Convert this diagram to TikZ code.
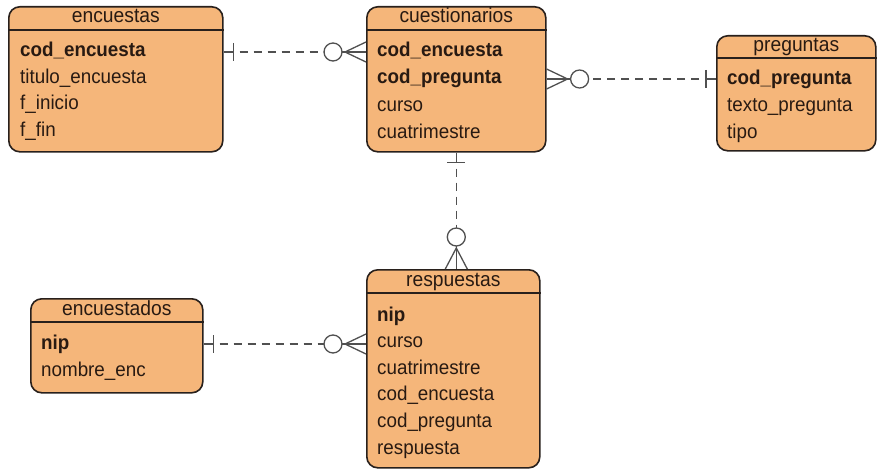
\documentclass[tikz,border=0pt]{standalone}
\usepackage{fontspec}
\setmainfont{Liberation Sans}[FakeStretch=0.94]
\usetikzlibrary{calc}
\definecolor{efill}{RGB}{245,182,122}
\definecolor{edraw}{RGB}{40,32,28}
\definecolor{etext}{RGB}{40,26,18}
\definecolor{rcol}{RGB}{80,80,80}
\tikzset{
  entity/.style={draw=edraw, fill=efill, line width=1.6pt, rounded corners=11pt, anchor=north west, inner sep=0pt},
  hdr/.style={draw=edraw, line width=1.6pt},
  ttl/.style={text=etext, font=\fontsize{20.5}{23}\selectfont, inner sep=0pt, text height=14pt, text depth=4pt},
  row/.style={text=etext, font=\fontsize{20}{23}\selectfont, inner sep=0pt, anchor=west, text height=14pt, text depth=4pt},
  key/.style={row, font=\fontsize{20}{23}\selectfont\bfseries},
  rel/.style={draw=rcol, line width=1.3pt},
  reld/.style={rel, dash pattern=on 8pt off 6pt},
}
\begin{document}
\begin{tikzpicture}[x=1pt, y=-1pt]
\useasboundingbox (0,0) rectangle (877,468);
% ---------- encuestas
\node[entity, minimum width=214pt, minimum height=145pt] (encuestas) at (8,6) {};
\draw[hdr] ([yshift=-24pt]encuestas.north west) -- ([yshift=-24pt]encuestas.north east);
\node[ttl] (encuestasT) at ([yshift=-12pt]encuestas.north) {encuestas};
\node[key] (ea1) at ([xshift=12pt,yshift=-46pt]encuestas.north west) {cod\_encuesta};
\node[row] (ea2) at ([yshift=-26.5pt]ea1.west) {titulo\_encuesta};
\node[row] (ea3) at ([yshift=-26.5pt]ea2.west) {f\_inicio};
\node[row] (ea4) at ([yshift=-26.5pt]ea3.west) {f\_fin};
% ---------- cuestionarios
\node[entity, minimum width=179pt, minimum height=145pt] (cuestionarios) at (366,6) {};
\draw[hdr] ([yshift=-24pt]cuestionarios.north west) -- ([yshift=-24pt]cuestionarios.north east);
\node[ttl] (cuestionariosT) at ([yshift=-12pt]cuestionarios.north) {cuestionarios};
\node[key] (cq1) at ([xshift=11pt,yshift=-46pt]cuestionarios.north west) {cod\_encuesta};
\node[key] (cq2) at ([yshift=-27pt]cq1.west) {cod\_pregunta};
\node[row] (cq3) at ([yshift=-27pt]cq2.west) {curso};
\node[row] (cq4) at ([yshift=-27pt]cq3.west) {cuatrimestre};
% ---------- preguntas
\node[entity, minimum width=159pt, minimum height=115pt] (preguntas) at (716,35) {};
\draw[hdr] ([yshift=-23pt]preguntas.north west) -- ([yshift=-23pt]preguntas.north east);
\node[ttl] (preguntasT) at ([yshift=-11.5pt]preguntas.north) {preguntas};
\node[key] (pr1) at ([xshift=11pt,yshift=-45pt]preguntas.north west) {cod\_pregunta};
\node[row] (pr2) at ([yshift=-26.5pt]pr1.west) {texto\_pregunta};
\node[row] (pr3) at ([yshift=-26.5pt]pr2.west) {tipo};
% ---------- encuestados
\node[entity, minimum width=172pt, minimum height=94pt] (encuestados) at (30,298) {};
\draw[hdr] ([yshift=-24pt]encuestados.north west) -- ([yshift=-24pt]encuestados.north east);
\node[ttl] (encuestadosT) at ([yshift=-12pt]encuestados.north) {encuestados};
\node[key] (en1) at ([xshift=11pt,yshift=-46pt]encuestados.north west) {nip};
\node[row] (en2) at ([yshift=-27pt]en1.west) {nombre\_enc};
% ---------- respuestas
\node[entity, minimum width=173pt, minimum height=198pt] (respuestas) at (366,269) {};
\draw[hdr] ([yshift=-24pt]respuestas.north west) -- ([yshift=-24pt]respuestas.north east);
\node[ttl] (respuestasT) at ([yshift=-12pt]respuestas.north) {respuestas};
\node[key] (rs1) at ([xshift=11pt,yshift=-47pt]respuestas.north west) {nip};
\node[row] (rs2) at ([yshift=-26.6pt]rs1.west) {curso};
\node[row] (rs3) at ([yshift=-26.6pt]rs2.west) {cuatrimestre};
\node[row] (rs4) at ([yshift=-26.6pt]rs3.west) {cod\_encuesta};
\node[row] (rs5) at ([yshift=-26.6pt]rs4.west) {cod\_pregunta};
\node[row] (rs6) at ([yshift=-26.6pt]rs5.west) {respuesta};
% ---------- relation 1: encuestas -- cuestionarios
\coordinate (r1a) at (encuestas.east |- ea1);
\coordinate (r1b) at (cuestionarios.west |- ea1);
\draw[rel] (r1a) -- ($(r1a)+(10,0)$);
\draw[rel] ($(r1a)+(10,-9)$) -- ($(r1a)+(10,9)$);
\draw[reld] ($(r1a)+(16,0)$) -- ($(r1b)+(-42,0)$);
\draw[rel] ($(r1b)+(-33,0)$) circle (9);
\draw[rel] ($(r1b)+(0,-10)$) -- ($(r1b)+(-21,0)$) -- ($(r1b)+(0,10)$);
\draw[rel] ($(r1b)+(-24,0)$) -- (r1b);
% ---------- relation 2: cuestionarios -- preguntas
\coordinate (r2a) at (cuestionarios.east |- cq2);
\coordinate (r2b) at (preguntas.west |- cq2);
\draw[rel] ($(r2a)+(0,-10)$) -- ($(r2a)+(21,0)$) -- ($(r2a)+(0,10)$);
\draw[rel] (r2a) -- ($(r2a)+(24,0)$);
\draw[rel] ($(r2a)+(33,0)$) circle (9);
\draw[reld] ($(r2b)+(-17,0)$) -- ($(r2a)+(42,0)$);
\draw[rel] ($(r2b)+(-10,-9)$) -- ($(r2b)+(-10,9)$);
\draw[rel] ($(r2b)+(-10,0)$) -- (r2b);
% ---------- relation 3: cuestionarios -- respuestas
\coordinate (r3a) at (cuestionarios.south);
\coordinate (r3b) at (respuestas.north -| cuestionarios.south);
\draw[rel] (r3a) -- ($(r3a)+(0,10)$);
\draw[rel] ($(r3a)+(-9,10)$) -- ($(r3a)+(9,10)$);
\draw[reld] ($(r3a)+(0,16)$) -- ($(r3b)+(0,-41)$);
\draw[rel] ($(r3b)+(0,-32)$) circle (9);
\draw[rel] ($(r3b)+(-11,0)$) -- ($(r3b)+(0,-21)$) -- ($(r3b)+(11,0)$);
\draw[rel] ($(r3b)+(0,-23)$) -- (r3b);
% ---------- relation 4: encuestados -- respuestas
\coordinate (r4a) at (encuestados.east |- en1);
\coordinate (r4b) at (respuestas.west |- en1);
\draw[rel] (r4a) -- ($(r4a)+(10,0)$);
\draw[rel] ($(r4a)+(10,-9)$) -- ($(r4a)+(10,9)$);
\draw[reld] ($(r4a)+(16,0)$) -- ($(r4b)+(-42,0)$);
\draw[rel] ($(r4b)+(-33,0)$) circle (9);
\draw[rel] ($(r4b)+(0,-10)$) -- ($(r4b)+(-21,0)$) -- ($(r4b)+(0,10)$);
\draw[rel] ($(r4b)+(-24,0)$) -- (r4b);
\end{tikzpicture}
\end{document}
